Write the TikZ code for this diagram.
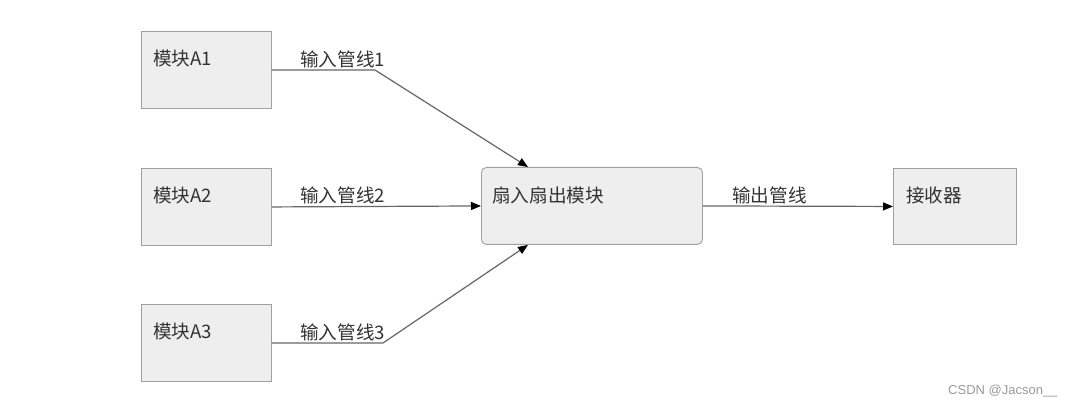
\documentclass[tikz,border=0pt]{standalone}
\usepackage{fontspec}
\setmainfont{Noto Sans CJK SC}
\newfontfamily\wmfont{Liberation Sans}
\usetikzlibrary{arrows.meta,calc}
\definecolor{boxfill}{HTML}{EEEEEE}
\definecolor{boxline}{HTML}{A0A0A0}
\definecolor{wirec}{HTML}{666666}
\definecolor{txtc}{HTML}{333333}
\definecolor{wmc}{HTML}{9A9A9A}
\begin{document}
\begin{tikzpicture}[x=1pt,y=-1pt,
  box/.style={draw=boxline,fill=boxfill,line width=0.9pt,inner sep=0pt,anchor=north west},
  lbl/.style={font=\fontsize{18.6}{21}\selectfont,text=txtc,anchor=base west,inner sep=0pt},
  wire/.style={draw=wirec,line width=1.2pt,-{Triangle[length=10pt,width=8pt,color=black]}}
]
\fill[white] (0,0) rectangle (1072,406);
\useasboundingbox (0,0) rectangle (1072,406);

% boxes
\node[box,minimum width=130pt,minimum height=77pt] (a1) at (141,31) {};
\node[box,minimum width=130pt,minimum height=77pt] (a2) at (141,168) {};
\node[box,minimum width=130pt,minimum height=77pt] (a3) at (141,304) {};
\node[box,minimum width=221pt,minimum height=77pt,rounded corners=5pt] (fan) at (481,167) {};
\node[box,minimum width=123pt,minimum height=76pt] (rx) at (893,168) {};

% box texts
\node[lbl] (ta1) at ($(a1.north west)+(12,35)$) {模块A1};
\node[lbl] (ta2) at ($(a2.north west)+(12,35)$) {模块A2};
\node[lbl] (ta3) at ($(a3.north west)+(12,35)$) {模块A3};
\node[lbl] (tfan) at ($(fan.north west)+(11,36)$) {扇入扇出模块};
\node[lbl] (trx) at ($(rx.north west)+(13,35)$) {接收器};

% bend points
\coordinate (k1) at (375,70);
\coordinate (k3) at (383,343);

% connectors
\draw[wire] (a1.east) -- (k1) -- ($(fan.north west)+(47,0)$);
\draw[wire] (a2.east) -- (fan.west);
\draw[wire] (a3.east) -- (k3) -- ($(fan.south west)+(47,0)$);
\draw[wire] (fan.east) -- (rx.west);

% connector labels
\node[lbl] (l1) at (300,67) {输入管线1};
\node[lbl] (l2) at (300,203) {输入管线2};
\node[lbl] (l3) at (300,340) {输入管线3};
\node[lbl] (lo) at (732,203) {输出管线};

% watermark
\node[font=\wmfont\fontsize{13}{15}\selectfont,text=wmc,anchor=base west,inner sep=0pt] (wm) at (948,395) {CSDN @Jacson\_\_};
\end{tikzpicture}
\end{document}
